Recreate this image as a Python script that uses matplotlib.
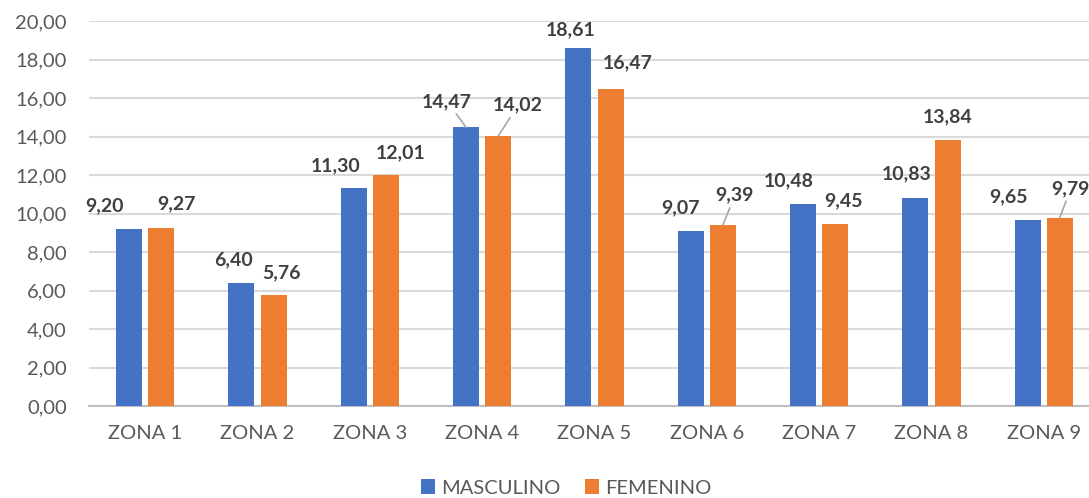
import numpy as np
import matplotlib
matplotlib.use("Agg")
import matplotlib.pyplot as plt

# data
zonas = ["ZONA 1", "ZONA 2", "ZONA 3", "ZONA 4", "ZONA 5",
         "ZONA 6", "ZONA 7", "ZONA 8", "ZONA 9"]
masculino = [9.20, 6.40, 11.30, 14.47, 18.61, 9.07, 10.48, 10.83, 9.65]
femenino = [9.27, 5.76, 12.01, 14.02, 16.47, 9.39, 9.45, 13.84, 9.79]
y_ticks = [0, 2, 4, 6, 8, 10, 12, 14, 16, 18, 20]

# label offsets (pixels, from bar top) as placed in the original, plus leader lines
off_m = [(-25, 23), (-8, 23), (-18, 23), (-19, 26), (-8, 18),
         (-10, 24), (-14, 24), (-9, 24), (-19, 23)]
off_f = [(15, 24), (8, 22), (15, 22), (20, 31), (17, 26),
         (12, 30), (8, 23), (0, 23), (11, 29)]
lead_m = [False, False, False, True, False, False, False, False, False]
lead_f = [False, False, False, True, False, True, False, False, True]

BLUE = "#4472C4"
ORANGE = "#ED7D31"

plt.rcParams["font.family"] = ["Lato", "DejaVu Sans"]

fig = plt.figure(figsize=(10.89, 4.98), dpi=100)
ax = fig.add_axes([89 / 1089, 1 - 406 / 498, 1011 / 1089, 385 / 498])

x = np.arange(len(zonas))
w = 26 / 112.3
d = 16 / 112.3
b1 = ax.bar(x - d, masculino, w, color=BLUE, label="MASCULINO", zorder=3)
b2 = ax.bar(x + d, femenino, w, color=ORANGE, label="FEMENINO", zorder=3)


def fmt(v):
    return f"{v:.2f}".replace(".", ",")


for xs, vals, offs, leads in [(x - d, masculino, off_m, lead_m),
                              (x + d, femenino, off_f, lead_f)]:
    for xi, v, (dx, dy), ld in zip(xs, vals, offs, leads):
        kw = {}
        if ld:
            kw["arrowprops"] = dict(arrowstyle="-", color="#A6A6A6", lw=1.2,
                                    shrinkA=1, shrinkB=0)
        ax.annotate(fmt(v), xy=(xi, v), xytext=(dx, dy),
                    textcoords="offset pixels", ha="center", va="center",
                    fontsize=14, fontweight="bold", color="#404040", **kw)

ax.set_xlim(-0.5, len(zonas) - 0.5)
ax.set_ylim(0, 20)
ax.set_yticks(y_ticks)
ax.set_yticklabels([fmt(t) for t in y_ticks])
ax.set_xticks(x)
ax.set_xticklabels(zonas)
ax.tick_params(axis="both", length=0, labelsize=14.5, labelcolor="#595959")
ax.tick_params(axis="y", pad=16)
ax.tick_params(axis="x", pad=14)

ax.grid(axis="y", color="#D9D9D9", lw=1.5, zorder=0)
for s in ["top", "right", "left"]:
    ax.spines[s].set_visible(False)
ax.spines["bottom"].set_color("#BFBFBF")
ax.spines["bottom"].set_linewidth(1.5)
ax.set_axisbelow(True)

fig.legend(handles=[b1, b2], loc="center", bbox_to_anchor=(566 / 1089, 1 - 488 / 498),
           ncol=2, frameon=False, fontsize=14.5, labelcolor="#595959",
           handlelength=0.7, handleheight=0.7, handletextpad=0.3, columnspacing=1.2)

fig.savefig("out.png", dpi=100)
